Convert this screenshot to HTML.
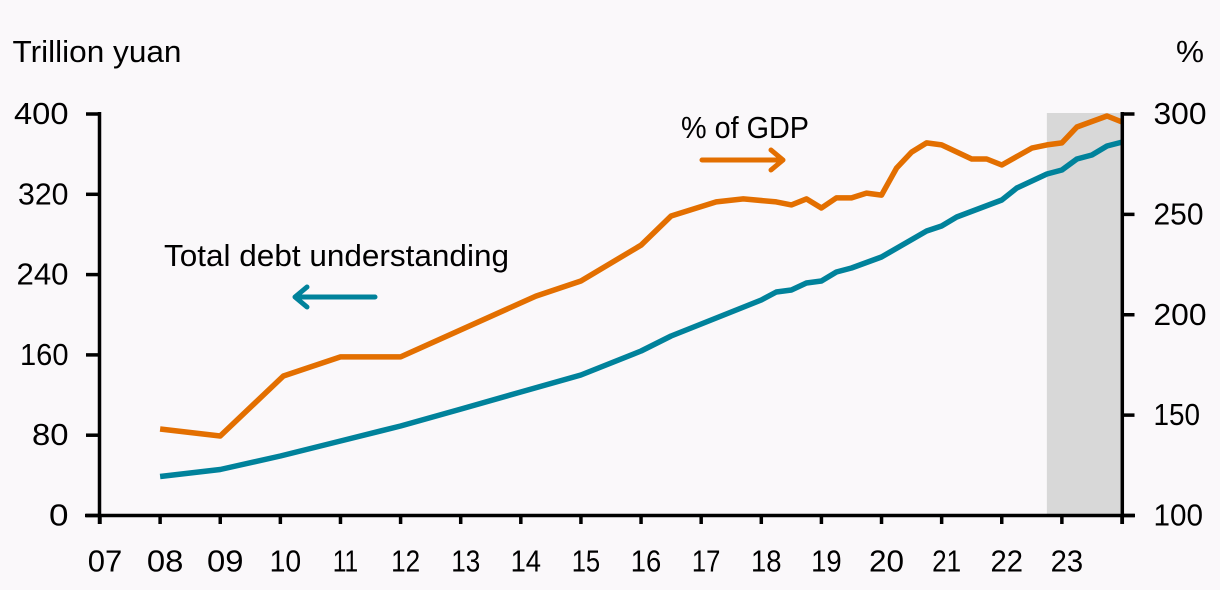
<!DOCTYPE html>
<html lang="en">
<head>
<meta charset="utf-8">
<title>Total debt outstanding and % of GDP</title>
<style>
html,body{margin:0;padding:0;background:#faf8fa;}
svg{display:block;}
text{font-family:"Liberation Sans",sans-serif;font-size:31px;fill:#000;}
</style>
</head>
<body>
<svg id="chart" width="1220" height="590" viewBox="0 0 1220 590" xmlns="http://www.w3.org/2000/svg">
<rect x="0" y="0" width="1220" height="590" fill="#faf8fa"/>
<text x="12.5" y="62" textLength="169" lengthAdjust="spacingAndGlyphs">Trillion yuan</text>
<text x="1176" y="62" textLength="28" lengthAdjust="spacingAndGlyphs">%</text>
<text x="164" y="266" textLength="345" lengthAdjust="spacingAndGlyphs">Total debt understanding</text>
<text x="681" y="138" textLength="128" lengthAdjust="spacingAndGlyphs">% of GDP</text>
<g id="marks"></g>
<path d="M375 297H295M307 287L295 297L307 307" fill="none" stroke="#00829b" stroke-width="5" stroke-linecap="round" stroke-linejoin="round"/>
<path d="M702 160H783M771 150L783 160L771 170" fill="none" stroke="#e36f00" stroke-width="5" stroke-linecap="round" stroke-linejoin="round"/>
</svg>
<script>
const yearTicks = [2007,2008,2009,2010,2011,2012,2013,2014,2015,2016,2017,2018,2019,2020,2021,2022,2023,2024];
const yearLabels = ['07','08','09','10','11','12','13','14','15','16','17','18','19','20','21','22','23'];
const leftTicks = [0,80,160,240,320,400];
const rightTicks = [100,150,200,250,300];
const forecastStart = 2022.75;
const forecastEnd = 2024;
const debtDates = [2008,2009,2010,2011,2012,2013,2014,2015,2016,2016.5,2017,2018,2018.25,2018.5,2018.75,2019,2019.25,2019.5,2020,2020.75,2021,2021.25,2022,2022.25,2022.75,2023,2023.25,2023.5,2023.75,2024];
const debtValues = [38.9,45.8,59.3,74.2,89.2,106,123,140,163.9,178.8,190.8,214.7,222.7,224.7,231.6,233.6,242.6,246.6,257.5,283.4,288.4,297.4,314.3,326.3,340.2,344.2,355.2,359.2,368.1,372];
const gdpDates = [2008,2009,2010.05,2011,2012,2014.25,2015,2016,2016.5,2017.25,2017.7,2018.25,2018.5,2018.75,2019,2019.25,2019.5,2019.75,2020,2020.25,2020.5,2020.75,2021,2021.5,2021.75,2022,2022.5,2022.75,2023,2023.25,2023.75,2024];
const gdpValues = [143.1,139.6,169.5,179,179,209.3,216.8,234.7,249.2,256.2,257.7,256.2,254.7,257.7,253.2,258.2,258.2,260.6,259.6,273.1,281,285.6,284.6,277.6,277.6,274.6,283,284.6,285.6,293.5,299,296];

const NS = 'http://www.w3.org/2000/svg';
const marks = document.getElementById('marks');
const xAxis = function(v){ return 100 + (v - 2007) * (1122 - 100) / 17; };
const yLeft = function(v){ return 515.5 - v * 401.5 / 400; };
const yRight = function(v){ return 515.5 - (v - 100) * 401.5 / 200; };
const digitWidth = {0:18,1:12,2:15.5,3:15.5,4:17,5:15,6:17,7:15,8:17,9:17};
const labelWidth = function(s){
  return s.split('').reduce(function(sum, c){ return sum + digitWidth[c]; }, 1.5);
};

function make(tag, attrs, parent){
  const el = document.createElementNS(NS, tag);
  Object.keys(attrs).forEach(function(k){ el.setAttribute(k, attrs[k]); });
  parent.appendChild(el);
  return el;
}

const shade = make('rect', {x:xAxis(forecastStart), y:113, width:xAxis(forecastEnd)-xAxis(forecastStart), height:402, fill:'#d8d8d8'}, marks);



function linePoints(dates, values, yFn){
  return dates.map(function(d, i){ return xAxis(d).toFixed(1) + ',' + yFn(values[i]).toFixed(1); }).join(' ');
}

const debtLine = make('polyline', {points:linePoints(debtDates, debtValues, yLeft), fill:'none', stroke:'#00829b', 'stroke-width':5.5, 'stroke-linejoin':'round'}, marks);



const gdpLine = make('polyline', {points:linePoints(gdpDates, gdpValues, yRight), fill:'none', stroke:'#e36f00', 'stroke-width':5.5, 'stroke-linejoin':'round'}, marks);



const axisLeft = make('line', {x1:99.5, x2:99.5, y1:112, y2:524, stroke:'#000', 'stroke-width':3.5}, marks);



const axisRight = make('line', {x1:1122.3, x2:1122.3, y1:112, y2:524, stroke:'#000', 'stroke-width':3.5}, marks);



const axisBottom = make('line', {x1:85, x2:1135, y1:515.5, y2:515.5, stroke:'#000', 'stroke-width':3.5}, marks);



leftTicks.forEach(function(v){
  const y = yLeft(v);
  const tick = make('line', {x1:86, x2:99, y1:y, y2:y, stroke:'#000', 'stroke-width':3.5}, marks);
  
  
  const s = String(v);
  const label = make('text', {x:68.5, y:y + 10, 'text-anchor':'end', textLength:labelWidth(s), lengthAdjust:'spacingAndGlyphs'}, marks);
  label.textContent = s;
  
  
});

rightTicks.forEach(function(v){
  const y = yRight(v);
  const tick = make('line', {x1:1122, x2:1134.5, y1:y, y2:y, stroke:'#000', 'stroke-width':3.5}, marks);
  
  
  const s = String(v);
  const label = make('text', {x:1153.5, y:y + 10, textLength:labelWidth(s), lengthAdjust:'spacingAndGlyphs'}, marks);
  label.textContent = s;
  
  
});

yearTicks.forEach(function(v){
  const x = xAxis(v);
  const tick = make('line', {x1:x, x2:x, y1:515, y2:524, stroke:'#000', 'stroke-width':3.5}, marks);
  
  
});

yearLabels.forEach(function(s, i){
  const label = make('text', {x:xAxis(yearTicks[i]) + 5, y:571.5, 'text-anchor':'middle', textLength:labelWidth(s), lengthAdjust:'spacingAndGlyphs'}, marks);
  label.textContent = s;
  
  
});
</script>
</body>
</html>
